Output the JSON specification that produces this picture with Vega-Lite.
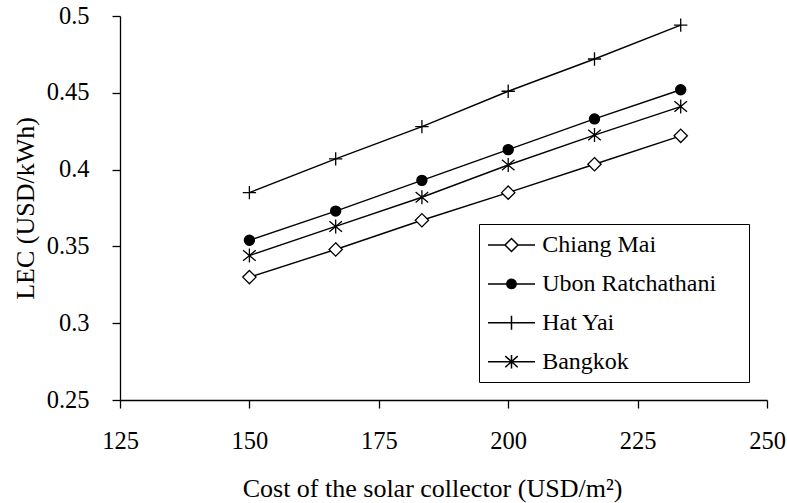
{
  "$schema": "https://vega.github.io/schema/vega-lite/v6.json",
  "width": 647,
  "height": 384,
  "autosize": {"type": "none"},
  "padding": {"left": 120, "top": 16, "right": 20, "bottom": 103},
  "background": "white",
  "data": {
    "values": [
      {"cost": 150, "city": "Chiang Mai", "lec": 0.33},
      {"cost": 166.67, "city": "Chiang Mai", "lec": 0.348},
      {"cost": 183.33, "city": "Chiang Mai", "lec": 0.367},
      {"cost": 200, "city": "Chiang Mai", "lec": 0.385},
      {"cost": 216.67, "city": "Chiang Mai", "lec": 0.4035},
      {"cost": 233.33, "city": "Chiang Mai", "lec": 0.422},
      {"cost": 150, "city": "Ubon Ratchathani", "lec": 0.354},
      {"cost": 166.67, "city": "Ubon Ratchathani", "lec": 0.373},
      {"cost": 183.33, "city": "Ubon Ratchathani", "lec": 0.393},
      {"cost": 200, "city": "Ubon Ratchathani", "lec": 0.413},
      {"cost": 216.67, "city": "Ubon Ratchathani", "lec": 0.433},
      {"cost": 233.33, "city": "Ubon Ratchathani", "lec": 0.452},
      {"cost": 150, "city": "Hat Yai", "lec": 0.385},
      {"cost": 166.67, "city": "Hat Yai", "lec": 0.407},
      {"cost": 183.33, "city": "Hat Yai", "lec": 0.428},
      {"cost": 200, "city": "Hat Yai", "lec": 0.451},
      {"cost": 216.67, "city": "Hat Yai", "lec": 0.472},
      {"cost": 233.33, "city": "Hat Yai", "lec": 0.494},
      {"cost": 150, "city": "Bangkok", "lec": 0.344},
      {"cost": 166.67, "city": "Bangkok", "lec": 0.363},
      {"cost": 183.33, "city": "Bangkok", "lec": 0.382},
      {"cost": 200, "city": "Bangkok", "lec": 0.403},
      {"cost": 216.67, "city": "Bangkok", "lec": 0.4225},
      {"cost": 233.33, "city": "Bangkok", "lec": 0.441}
    ]
  },
  "encoding": {
    "x": {
      "field": "cost",
      "type": "quantitative",
      "scale": {"domain": [125, 250], "nice": false, "zero": false},
      "axis": {
        "title": "Cost of the solar collector (USD/m²)",
        "values": [125, 150, 175, 200, 225, 250],
        "labelFont": "Liberation Serif",
        "titleFont": "Liberation Serif",
        "labelFlush": false,
        "labelOverlap": false,
        "labelPadding": 21,
        "titlePadding": 23,
        "titleX": 312
      }
    },
    "y": {
      "field": "lec",
      "type": "quantitative",
      "scale": {"domain": [0.25, 0.5], "nice": false, "zero": false},
      "axis": {
        "title": "LEC (USD/kWh)",
        "values": [0.25, 0.3, 0.35, 0.4, 0.45, 0.5],
        "format": ".2~f",
        "labelFont": "Liberation Serif",
        "titleFont": "Liberation Serif",
        "labelOverlap": false,
        "labelPadding": 23,
        "titlePadding": 8
      }
    }
  },
  "layer": [
    {
      "mark": {"type": "line", "stroke": "black", "strokeWidth": 1.4},
      "encoding": {"detail": {"field": "city", "type": "nominal"}}
    },
    {
      "mark": {"type": "point", "stroke": "black", "strokeWidth": 1.3, "opacity": 1, "size": 196},
      "encoding": {
        "fill": {
          "field": "city",
          "type": "nominal",
          "scale": {
            "domain": ["Chiang Mai", "Ubon Ratchathani", "Hat Yai", "Bangkok"],
            "range": ["white", "black", "white", "white"]
          },
          "legend": null
        },
        "shape": {
          "field": "city",
          "type": "nominal",
          "scale": {
            "domain": ["Chiang Mai", "Ubon Ratchathani", "Hat Yai", "Bangkok"],
            "range": [
              "M0,-0.95L0.95,0L0,0.95L-0.95,0Z",
              "M0.72,0A0.72,0.72 0 1,1 -0.72,0A0.72,0.72 0 1,1 0.72,0Z",
              "M-0.95,0H0.95M0,-0.95V0.95",
              "M0,-1V1M-0.9,-0.75L0.9,0.75M-0.9,0.75L0.9,-0.75"
            ]
          },
          "legend": null
        }
      }
    },
    {
      "transform": [{"filter": "false"}],
      "mark": {"type": "point", "stroke": "black", "strokeWidth": 1.3, "opacity": 1},
      "encoding": {
        "shape": {
          "field": "city",
          "type": "nominal",
          "scale": {
            "domain": ["Chiang Mai", "Ubon Ratchathani", "Hat Yai", "Bangkok"],
            "range": [
              "M-1.96,0H-0.54M0.54,0H1.96M0,-0.54L0.54,0L0,0.54L-0.54,0Z",
              "M-1.96,0H1.96M0.39,0A0.39,0.39 0 1,1 -0.39,0A0.39,0.39 0 1,1 0.39,0M0.28,0A0.28,0.28 0 1,1 -0.28,0A0.28,0.28 0 1,1 0.28,0M0.175,0A0.175,0.175 0 1,1 -0.175,0A0.175,0.175 0 1,1 0.175,0M0.07,0A0.07,0.07 0 1,1 -0.07,0A0.07,0.07 0 1,1 0.07,0",
              "M-1.96,0H1.96M0,-0.58V0.58",
              "M-1.96,0H1.96M0,-0.56V0.56M-0.52,-0.46L0.52,0.46M-0.52,0.46L0.52,-0.46"
            ]
          },
          "legend": {
            "orient": "none",
            "legendX": 359,
            "legendY": 208,
            "title": null,
            "padding": 8,
            "strokeColor": "black",
            "fillColor": "white",
            "symbolSize": 576,
            "symbolOffset": 11.5,
            "labelFont": "Liberation Serif",
            "labelFontSize": 24,
            "labelColor": "black",
            "labelOffset": 17.7,
            "labelLimit": 0,
            "rowPadding": 13.9,
            "labelExpr": "datum.label + '\u2003\u200b'"
          }
        }
      }
    }
  ],
  "resolve": {"scale": {"shape": "independent"}},
  "config": {
    "view": {"stroke": null},
    "axis": {
      "grid": false,
      "domainColor": "black",
      "domainWidth": 1.3,
      "tickColor": "black",
      "tickWidth": 1.3,
      "tickSize": 8,
      "labelColor": "black",
      "titleColor": "black",
      "labelFont": "Liberation Serif",
      "titleFont": "Liberation Serif",
      "labelFontSize": 24.5,
      "titleFontSize": 26,
      "titleFontWeight": "normal"
    }
  }
}
